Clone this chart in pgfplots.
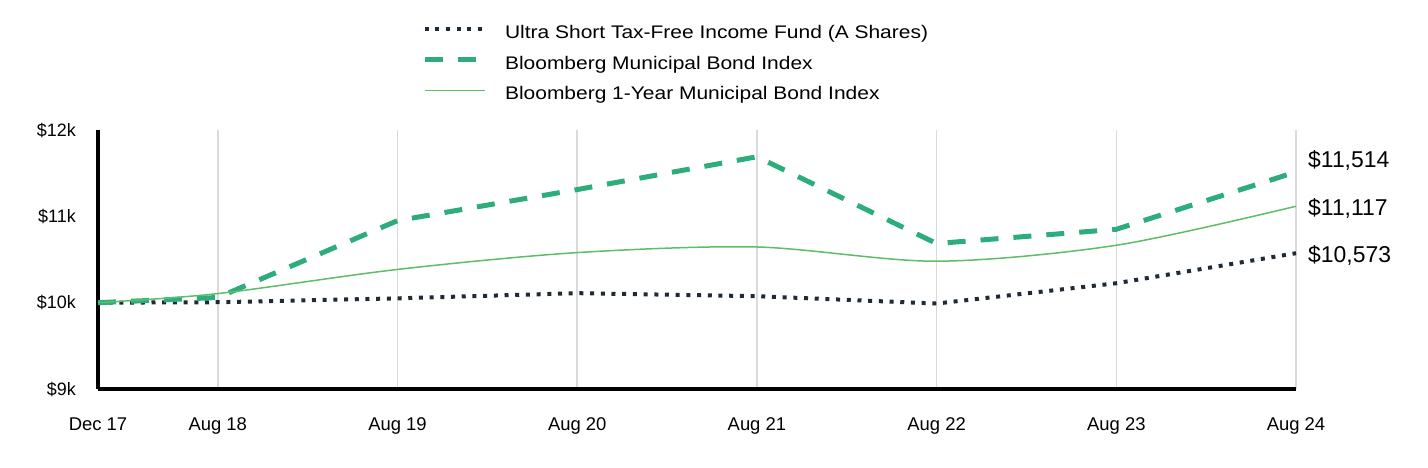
\documentclass[border=0pt]{standalone}
\usepackage{fontspec}
\setmainfont{Liberation Sans}
\newfontfamily\legfont[FakeStretch=1.15]{Liberation Sans}
\usepackage{pgfplots}
\pgfplotsset{compat=1.18}
\definecolor{fundc}{HTML}{1F2A36}
\definecolor{munic}{HTML}{2EAD7C}
\definecolor{oneyc}{HTML}{5DBD6A}
\definecolor{gridc}{HTML}{DADADA}
\begin{document}
\begin{tikzpicture}
\useasboundingbox (-98bp,-79bp) rectangle (1330bp,389bp);
\begin{axis}[
  at={(0,0)}, anchor=south west,
  scale only axis, width=1198bp, height=259bp,
  xmin=0, xmax=6.6667, ymin=9000, ymax=12000,
  scaled y ticks=false, scaled x ticks=false,
  axis x line=bottom, axis y line=left,
  axis line style={line width=4bp, -, black},
  xtick={0,0.6667,1.6667,2.6667,3.6667,4.6667,5.6667,6.6667},
  xticklabels={Dec 17,Aug 18,Aug 19,Aug 20,Aug 21,Aug 22,Aug 23,Aug 24},
  ytick={9000,10000,11000,12000},
  yticklabels={\$9k,\$10k,\$11k,\$12k},
  xmajorgrids, major x grid style={color=gridc, line width=1.5bp},
  major tick length=0pt,
  xticklabel style={font=\fontsize{18.5}{22}\selectfont, anchor=base, inner sep=0pt, yshift=-41bp},
  yticklabel style={font=\fontsize{18}{22}\selectfont, anchor=east, inner sep=0pt, xshift=-22bp},
  clip=false,
  legend image code/.code={\draw[#1] (0bp,4bp) -- (60bp,4bp);},
  legend cell align=left,
  legend style={at={(rel axis cs:0.2705,1)}, anchor=north west, yshift=106bp,
    draw=none, fill=none, inner sep=0pt, outer sep=0pt,
    font=\legfont\fontsize{18.3}{22}\selectfont,
    row sep=11.5bp, column sep=18bp,
    nodes={inner sep=0pt, text height=15bp, text depth=4bp}},
]
\addplot[color=fundc, line width=4bp, dash pattern=on 4bp off 6.7bp] coordinates {
 (0,10000) (0.6667,10005) (1.6667,10050) (2.6667,10110) (3.6667,10075) (4.6667,9990) (5.6667,10225) (6.6667,10573)};
\addlegendentry{Ultra Short Tax-Free Income Fund (A Shares)}
\addplot[color=munic, line width=5bp, dash pattern=on 18bp off 15bp] coordinates {
 (0,10000) (0.6667,10060) (1.6667,10950) (2.6667,11310) (3.6667,11690) (4.6667,10685) (5.6667,10850) (6.6667,11514)};
\addlegendentry{Bloomberg Municipal Bond Index}
\addplot[color=oneyc, line width=1.5bp, smooth] coordinates {
 (0,10000) (0.6667,10105) (1.6667,10385) (2.6667,10580) (3.6667,10645) (4.6667,10480) (5.6667,10665) (6.6667,11117)};
\addlegendentry{Bloomberg 1-Year Municipal Bond Index}
\node[anchor=base west, inner sep=0pt, xshift=12bp, font=\fontsize{23}{26}\selectfont] at (axis cs:6.6667,11571) {\$11,514};
\node[anchor=base west, inner sep=0pt, xshift=12bp, font=\fontsize{23}{26}\selectfont] at (axis cs:6.6667,11011) {\$11,117};
\node[anchor=base west, inner sep=0pt, xshift=12bp, font=\fontsize{23}{26}\selectfont] at (axis cs:6.6667,10467) {\$10,573};
\end{axis}
\end{tikzpicture}
\end{document}
